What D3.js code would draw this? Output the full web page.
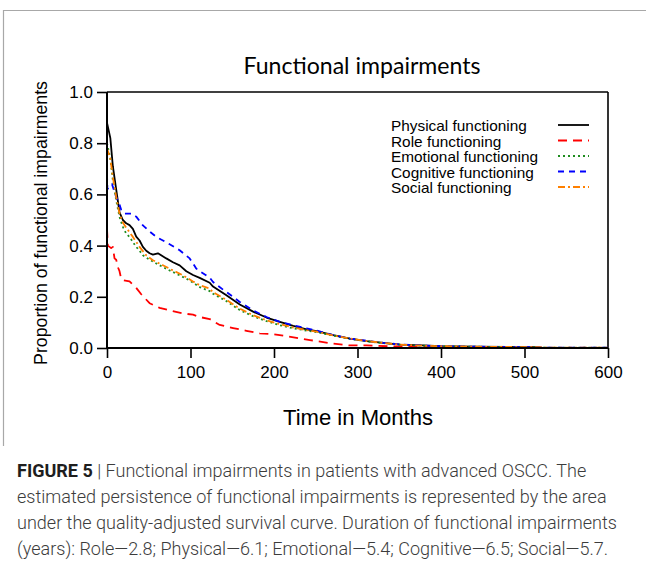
<!DOCTYPE html>
<html>
<head>
<meta charset="utf-8">
<script src="https://cdn.jsdelivr.net/npm/d3@7"></script>
<style>
  html, body { margin: 0; padding: 0; background: #fff; }
  svg { display: block; }
</style>
</head>
<body>
<svg id="chart" width="646" height="567"></svg>
<script>
// ---------------- DATA ----------------
const seriesNames = ["Physical functioning", "Role functioning", "Emotional functioning", "Cognitive functioning", "Social functioning"];

const physicalT = [0, 2, 4, 7, 11, 15, 19, 23, 27, 31, 35, 39, 43, 47, 51, 55, 61, 71, 79, 87, 95, 103, 111, 123, 127, 143, 159, 175, 191, 207, 223, 239, 251, 271, 291, 311, 331, 351, 378, 400, 440, 480, 518];
const physicalV = [0.88, 0.85, 0.82, 0.71, 0.62, 0.53, 0.50, 0.487, 0.48, 0.465, 0.435, 0.42, 0.395, 0.38, 0.37, 0.365, 0.37, 0.35, 0.335, 0.323, 0.30, 0.285, 0.274, 0.255, 0.24, 0.206, 0.17, 0.142, 0.119, 0.102, 0.086, 0.073, 0.066, 0.05, 0.037, 0.027, 0.02, 0.013, 0.01, 0.007, 0.005, 0.004, 0.003];

const roleT = [0, 1, 5, 7, 9, 11, 13, 15, 17, 19, 27, 35, 41, 51, 63, 75, 91, 103, 111, 123, 135, 151, 167, 183, 199, 215, 231, 243, 271, 291, 311, 351, 400, 440, 480, 520];
const roleV = [0.466, 0.40, 0.39, 0.395, 0.35, 0.345, 0.316, 0.30, 0.27, 0.265, 0.26, 0.235, 0.21, 0.175, 0.157, 0.147, 0.135, 0.13, 0.121, 0.113, 0.09, 0.078, 0.067, 0.057, 0.054, 0.046, 0.037, 0.031, 0.017, 0.01, 0.01, 0.005, 0.004, 0.003, 0.002, 0.001];

const emotionalT = [0, 2, 4, 7, 11, 15, 19, 23, 27, 31, 35, 39, 43, 51, 63, 75, 87, 99, 111, 123, 127, 143, 159, 175, 191, 207, 223, 239, 251, 271, 291, 311, 331, 351, 378, 400, 440, 480, 518, 530, 600];
const emotionalV = [0.80, 0.77, 0.74, 0.655, 0.577, 0.512, 0.473, 0.447, 0.434, 0.414, 0.395, 0.38, 0.362, 0.345, 0.323, 0.303, 0.284, 0.264, 0.238, 0.222, 0.212, 0.183, 0.148, 0.124, 0.105, 0.089, 0.077, 0.068, 0.062, 0.048, 0.036, 0.026, 0.019, 0.013, 0.009, 0.007, 0.005, 0.004, 0.003, 0.001, 0.001];

const cognitiveT = [0, 0.5, 3, 6, 11, 15, 17, 21, 29, 35, 43, 51, 59, 67, 75, 87, 99, 107, 111, 123, 127, 139, 143, 159, 175, 191, 207, 223, 239, 251, 271, 291, 311, 331, 351, 378, 400, 440, 480, 518, 530, 600];
const cognitiveV = [0.68, 0.62, 0.63, 0.64, 0.59, 0.56, 0.54, 0.525, 0.525, 0.513, 0.479, 0.455, 0.434, 0.42, 0.405, 0.382, 0.35, 0.31, 0.30, 0.275, 0.258, 0.228, 0.219, 0.18, 0.147, 0.121, 0.102, 0.089, 0.077, 0.068, 0.05, 0.037, 0.028, 0.02, 0.014, 0.01, 0.007, 0.005, 0.004, 0.003, 0.001, 0.001];

const socialT = [0, 2, 4, 7, 11, 15, 19, 23, 31, 39, 47, 55, 67, 79, 91, 103, 111, 123, 127, 143, 159, 175, 191, 207, 223, 239, 251, 271, 291, 311, 331, 351, 378, 400, 440, 480, 518, 530, 600];
const socialV = [0.78, 0.76, 0.74, 0.668, 0.59, 0.525, 0.49, 0.47, 0.434, 0.395, 0.362, 0.343, 0.323, 0.303, 0.284, 0.26, 0.245, 0.232, 0.218, 0.188, 0.154, 0.128, 0.108, 0.093, 0.08, 0.07, 0.064, 0.049, 0.037, 0.027, 0.02, 0.013, 0.009, 0.007, 0.005, 0.004, 0.003, 0.001, 0.001];

const xTicks = [0, 100, 200, 300, 400, 500, 600];
const yTicks = [0.0, 0.2, 0.4, 0.6, 0.8, 1.0];

const titleText = "Functional impairments";
const xLabel = "Time in Months";
const yLabel = "Proportion of functional impairments";
const captionBold = "FIGURE 5";
const captionLines = [
  " | Functional impairments in patients with advanced OSCC. The",
  "estimated persistence of functional impairments is represented by the area",
  "under the quality-adjusted survival curve. Duration of functional impairments",
  "(years): Role\u20142.8; Physical\u20146.1; Emotional\u20145.4; Cognitive\u20146.5; Social\u20145.7."
];

// ---------------- STYLES ----------------
const styles = [
  { color: "#000000", dash: null },
  { color: "#ff0000", dash: "9,6" },
  { color: "#1e8c1e", dash: "2,3" },
  { color: "#0000ff", dash: "6,5" },
  { color: "#ff8000", dash: "7,3,2,3" }
];

const seriesData = [
  d3.zip(physicalT, physicalV),
  d3.zip(roleT, roleV),
  d3.zip(emotionalT, emotionalV),
  d3.zip(cognitiveT, cognitiveV),
  d3.zip(socialT, socialV)
];

// helper: scale font so the text's width matches a target width
function fitWidth(sel, target) {
  const fs = parseFloat(sel.style("font-size"));
  const w = sel.node().getComputedTextLength();
  if (w > 0) sel.style("font-size", (fs * target / w).toFixed(2) + "px");
  return sel;
}

// ---------------- DRAW ----------------
const svg = d3.select("#chart");
const SANS = "'Liberation Sans', Arial, sans-serif";

// outer figure frame (left + top)
svg.append("path")
  .attr("d", "M3.5,446 L3.5,10.5 L646,10.5")
  .attr("fill", "none").attr("stroke", "#a8a8a8").attr("stroke-width", 1.2);

const L = 107, R = 608, T = 92, B = 348;
const x = d3.scaleLinear().domain([0, 600]).range([L, R]);
const y = d3.scaleLinear().domain([0, 1]).range([B, T]);

const g = svg.append("g");

// plot box top/right
g.append("line").attr("x1", L).attr("x2", R).attr("y1", T).attr("y2", T)
  .attr("stroke", "#000").attr("stroke-width", 1.6);
g.append("line").attr("x1", R).attr("x2", R).attr("y1", T).attr("y2", B)
  .attr("stroke", "#000").attr("stroke-width", 1.6);

// curves
const line = d3.line().x(d => x(d[0])).y(d => y(d[1])).curve(d3.curveLinear);
seriesData.forEach((data, i) => {
  g.append("path")
    .datum(data)
    .attr("d", line)
    .attr("fill", "none")
    .attr("stroke", styles[i].color)
    .attr("stroke-width", 1.8)
    .attr("stroke-dasharray", styles[i].dash)
    .attr("stroke-linejoin", "round");
});

// axes
const xAxis = d3.axisBottom(x).tickValues(xTicks).tickFormat(d3.format("d")).tickSize(10).tickPadding(8);
const yAxis = d3.axisLeft(y).tickValues(yTicks).tickFormat(d3.format(".1f")).tickSize(10).tickPadding(4);

const gx = g.append("g").attr("transform", `translate(0,${B})`).call(xAxis);
const gy = g.append("g").attr("transform", `translate(${L},0)`).call(yAxis);
[gx, gy].forEach(a => {
  a.select(".domain").attr("stroke", "#000").attr("stroke-width", 2);
  a.selectAll(".tick line").attr("stroke", "#000").attr("stroke-width", 1.6);
  a.selectAll(".tick text").attr("fill", "#000")
    .style("font-family", SANS).style("font-size", "17px");
});
gx.select(".domain").attr("d", `M${L},0H${R}`);
gy.select(".domain").attr("d", `M0,${B}V${T}`);

// title
fitWidth(svg.append("text").attr("x", 362).attr("y", 74).attr("text-anchor", "middle")
  .style("font-family", "Lato, 'Open Sans', sans-serif").style("font-size", "21px")
  .attr("fill", "#000").text(titleText), 237);

// axis labels
fitWidth(svg.append("text").attr("x", 358).attr("y", 425).attr("text-anchor", "middle")
  .style("font-family", SANS).style("font-size", "21px")
  .attr("fill", "#000").text(xLabel), 150);

fitWidth(svg.append("text").attr("transform", "translate(47,223) rotate(-90)").attr("text-anchor", "middle")
  .style("font-family", SANS).style("font-size", "15.5px")
  .attr("fill", "#000").text(yLabel), 284);

// legend
const legend = svg.append("g");
const legendBase = [131, 146.5, 162, 177.5, 193];
let legendFs = null;
seriesNames.forEach((name, i) => {
  const t = legend.append("text").attr("x", 391).attr("y", legendBase[i])
    .style("font-family", SANS).style("font-size", "14px")
    .attr("fill", "#000").text(name);
  if (i === 0) { fitWidth(t, 136); legendFs = t.style("font-size"); }
  else t.style("font-size", legendFs);
  legend.append("line").attr("x1", 558).attr("x2", 589)
    .attr("y1", legendBase[i] - 6).attr("y2", legendBase[i] - 6)
    .attr("stroke", styles[i].color).attr("stroke-width", 1.8)
    .attr("stroke-dasharray", styles[i].dash);
});

// caption
const cap = svg.append("g")
  .style("font-family", "Roboto, 'Liberation Sans', sans-serif").style("font-size", "17px");
const capBase = [477, 503, 529, 555];
const capTexts = captionLines.map((t, i) => {
  const tx = cap.append("text").attr("x", 17).attr("y", capBase[i]).attr("fill", "#3c3c3c");
  if (i === 0) {
    tx.append("tspan").style("font-weight", 700).attr("fill", "#1e1e1e").text(captionBold);
    tx.append("tspan").style("font-weight", 300).text(t);
  } else {
    tx.append("tspan").style("font-weight", 300).text(t);
  }
  return tx;
});
// fit caption font so the third line spans like the reference; keep all lines inside
{
  const w3 = capTexts[2].node().getComputedTextLength();
  let fs = 17 * 600 / w3;
  const wMax = d3.max(capTexts, t => t.node().getComputedTextLength());
  fs = Math.min(fs, 17 * 627 / wMax);
  cap.style("font-size", fs.toFixed(2) + "px");
}
</script>
</body>
</html>
